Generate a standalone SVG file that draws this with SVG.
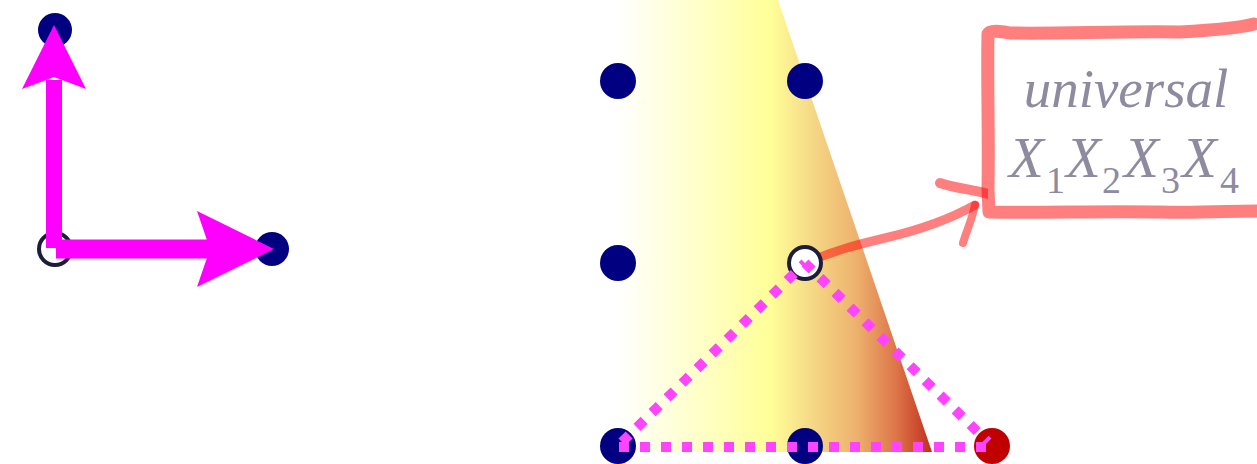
<svg xmlns="http://www.w3.org/2000/svg" width="1257" height="464" viewBox="0 0 1257 464">
<style>
.dot{fill:#000080}
.open{fill:#ffffff;stroke:#1c1c3c;stroke-width:4}
.arrow{stroke:#ff00ff;fill:none}
.head{fill:#ff00ff}
.dotted{stroke:#ff44ff;stroke-width:10;stroke-dasharray:10 11;fill:none}
.hand{stroke:#ff0000;stroke-opacity:0.5;fill:none;stroke-linecap:round;stroke-linejoin:round}
.lbl{fill:#8e8aa0;font-family:"Liberation Serif",serif;font-style:italic}
</style>
<defs>
<linearGradient id="g" gradientUnits="userSpaceOnUse" x1="618" y1="0" x2="935" y2="0">
<stop offset="0" stop-color="#ffffff"/>
<stop offset="0.48" stop-color="#ffff99"/>
<stop offset="0.6" stop-color="#f6dc88"/>
<stop offset="0.75" stop-color="#eeb26e"/>
<stop offset="0.88" stop-color="#dc7448"/>
<stop offset="1" stop-color="#c0281a"/>
</linearGradient>
</defs>
<g id="region">
<polygon points="618,0 778,0 932,452 618,452" fill="url(#g)"/>
</g>
<g id="nodes-left">
<circle id="n-top" class="dot" cx="55" cy="30" r="17"/>
<circle id="n-origin" class="open" cx="55" cy="249" r="16"/>
<circle id="n-right" class="dot" cx="272" cy="249" r="17"/>
</g>
<g id="nodes-grid">
<circle id="g1" class="dot" cx="618" cy="81" r="18"/>
<circle id="g2" class="dot" cx="805" cy="81" r="18"/>
<circle id="g3" class="dot" cx="618" cy="263" r="18"/>
<circle id="g5" class="dot" cx="618" cy="446" r="18"/>
<circle id="g6" class="dot" cx="805" cy="446" r="18"/>
<circle id="g7" cx="992" cy="446" r="18" fill="#c00000"/>
</g>
<g id="connectors">
<line class="arrow" x1="54" y1="248" x2="54" y2="80" stroke-width="16"/>
<polygon class="head" points="54,25 86,89 54,77 22,89"/>
<line class="arrow" x1="56" y1="249" x2="212" y2="249" stroke-width="19"/>
<polygon class="head" points="274,249 197,211 210,249 197,287"/>
<path class="hand" stroke-width="9" d="M808,262 C835,250 860,244 885,238 C915,231 945,222 975,205"/>
<path class="hand" stroke-width="10" d="M940,183 C960,190 985,190 1002,199"/>
<path class="hand" stroke-width="8" d="M975,205 C972,220 966,232 963,243"/>
</g>
<g id="g4">
<circle class="open" cx="805" cy="263" r="16"/>
</g>
<g id="triangle">
<line class="dotted" x1="622" y1="442" x2="805" y2="263"/>
<line class="dotted" x1="805" y1="263" x2="988" y2="442"/>
<line class="dotted" x1="619" y1="447" x2="993" y2="447"/>
</g>
<g id="callout">
<rect x="988" y="32" width="264" height="180" fill="#ffffff"/>
<path class="hand" stroke-width="13" d="M988,34 C990,30 1000,31 1010,33 C1060,34 1120,31 1180,32 C1215,30 1240,28 1254,24 M988,34 C987,80 989,130 988,190 L989,212 C1040,213 1100,211 1160,212 C1200,213 1230,211 1256,211"/>
<text class="lbl" x="1126" y="107" font-size="55" text-anchor="middle">universal</text>
<text class="lbl" y="177" font-size="57"><tspan x="1009">X</tspan><tspan x="1046" y="193" font-size="38" font-style="normal">1</tspan><tspan x="1066" y="177">X</tspan><tspan x="1102" y="193" font-size="38" font-style="normal">2</tspan><tspan x="1124" y="177">X</tspan><tspan x="1161" y="193" font-size="38" font-style="normal">3</tspan><tspan x="1182" y="177">X</tspan><tspan x="1220" y="193" font-size="38" font-style="normal">4</tspan></text>
</g>
</svg>
